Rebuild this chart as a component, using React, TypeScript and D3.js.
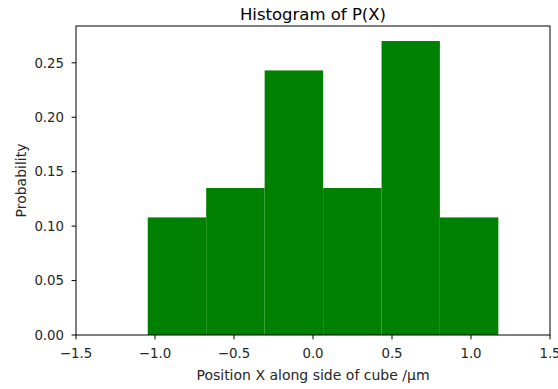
import React from "react";
import * as d3 from "d3";

const binEdges = [-1.046, -0.676, -0.306, 0.064, 0.434, 0.803, 1.173];
const probabilities = [0.108, 0.135, 0.243, 0.135, 0.270, 0.108];
const xTicks = [-1.5, -1.0, -0.5, 0.0, 0.5, 1.0, 1.5];
const yTicks = [0.0, 0.05, 0.1, 0.15, 0.2, 0.25];
const title = "Histogram of P(X)";
const xLabel = "Position X along side of cube /\u03bcm";
const yLabel = "Probability";

const W = 558;
const H = 389;
const M = { left: 76, right: 8, top: 26, bottom: 54 };
const FONT = "DejaVu Sans, sans-serif";

export default function App() {
  const x = d3.scaleLinear().domain([-1.5, 1.5]).range([M.left, W - M.right]);
  const y = d3.scaleLinear().domain([0, 0.2838]).range([H - M.bottom, M.top]);
  const x0 = M.left, x1 = W - M.right, y0 = H - M.bottom, y1 = M.top;
  const fmtX = (v: number) => d3.format(".1f")(v).replace("-", "\u2212");
  const fmtY = (v: number) => d3.format(".2f")(v);
  const tick = 4.4;
  return (
    <svg width={W} height={H} style={{ position: "absolute", left: 0, top: 0, background: "#fff" }}>
      <rect x={0} y={0} width={W} height={H} fill="#fff" />
      {probabilities.map((p, i) => (
        <rect
          key={i}
          x={x(binEdges[i])}
          y={y(p)}
          width={x(binEdges[i + 1]) - x(binEdges[i])}
          height={y(0) - y(p)}
          fill="#008000"
        />
      ))}
      <rect x={x0} y={y1} width={x1 - x0} height={y0 - y1} fill="none" stroke="#000" strokeWidth={1} />
      {xTicks.map((t) => (
        <g key={"x" + t}>
          <line x1={x(t)} x2={x(t)} y1={y0} y2={y0 + tick} stroke="#000" strokeWidth={1} />
          <text x={x(t)} y={357.5} textAnchor="middle" fontFamily={FONT} fontSize={13.3} fill="#262626">
            {fmtX(t)}
          </text>
        </g>
      ))}
      {yTicks.map((t) => (
        <g key={"y" + t}>
          <line x1={x0 - tick} x2={x0} y1={y(t)} y2={y(t)} stroke="#000" strokeWidth={1} />
          <text x={64} y={y(t)} dy="0.36em" textAnchor="end" fontFamily={FONT} fontSize={13.3} fill="#262626">
            {fmtY(t)}
          </text>
        </g>
      ))}
      <text x={(x0 + x1) / 2} y={19.5} textAnchor="middle" fontFamily={FONT} fontSize={16.5} fill="#000">
        {title}
      </text>
      <text x={(x0 + x1) / 2} y={380} textAnchor="middle" fontFamily={FONT} fontSize={14} fill="#262626">
        {xLabel}
      </text>
      <text
        transform={`translate(25.5,${(y0 + y1) / 2}) rotate(-90)`}
        textAnchor="middle"
        fontFamily={FONT}
        fontSize={14}
        fill="#262626"
      >
        {yLabel}
      </text>
    </svg>
  );
}
